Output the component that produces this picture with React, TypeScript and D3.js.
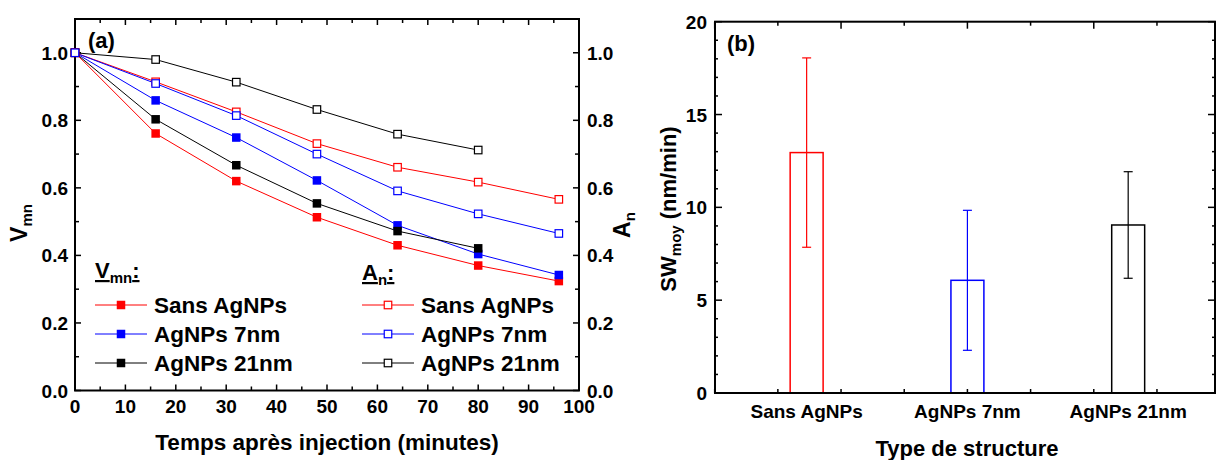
import React from "react";
import * as d3 from "d3";

// ---------- data: panel (a) ----------
const times = [0, 16, 32, 48, 64, 80, 96];
const vmnSans = [1.0, 0.761, 0.62, 0.513, 0.43, 0.37, 0.324];
const vmn7 = [1.0, 0.859, 0.749, 0.622, 0.489, 0.404, 0.342];
const vmn21 = [1.0, 0.803, 0.667, 0.554, 0.472, 0.421];
const anSans = [1.0, 0.914, 0.825, 0.731, 0.661, 0.617, 0.566];
const an7 = [1.0, 0.909, 0.814, 0.7, 0.591, 0.523, 0.465];
const an21 = [1.0, 0.98, 0.913, 0.832, 0.759, 0.712];
const legendNames = ["Sans AgNPs", "AgNPs 7nm", "AgNPs 21nm"];
const seriesColors = ["#ff0000", "#0000ff", "#000000"];
const xTicksA = [0, 10, 20, 30, 40, 50, 60, 70, 80, 90, 100];
const yTicksA = [0.0, 0.2, 0.4, 0.6, 0.8, 1.0];

// ---------- data: panel (b) ----------
const categories = ["Sans AgNPs", "AgNPs 7nm", "AgNPs 21nm"];
const swMean = [12.95, 6.07, 9.05];
const swErr = [5.1, 3.77, 2.87];
const yTicksB = [0, 5, 10, 15, 20];

const FONT = "Arial, 'Liberation Sans', Helvetica, sans-serif";

export default function App() {
  // panel (a) geometry
  const aL = 75, aR = 579, aT = 19, aB = 390.5;
  const xA = d3.scaleLinear().domain([0, 100]).range([aL, aR]);
  const yA = d3.scaleLinear().domain([0, 1.1]).range([aB, aT]);
  const lineA = (xs: number[], ys: number[]) =>
    d3.line<number>().x((_, i) => xA(xs[i])).y((d) => yA(d))(ys) || "";

  // panel (b) geometry
  const bL = 715, bR = 1215, bT = 21.7, bB = 393;
  const xB = d3.scaleLinear().domain([0.43, 3.54]).range([bL, bR]);
  const yB = d3.scaleLinear().domain([0, 20]).range([bB, bT]);
  const barW = 0.205;
  const stepB = 0.393;
  const xTicksB = d3.range(-4, 4).map((k) => ({ v: 2 + k * stepB, major: k % 2 === 0 }));

  const filled = [vmnSans, vmn7, vmn21];
  const open = [anSans, an7, an21];
  const openOrder = [2, 0, 1];

  const sq = 8.5;
  const tickFs = 19;

  return (
    <svg
      width={1219}
      height={460}
      style={{ position: "absolute", left: 0, top: 0, background: "#fff" }}
      fontFamily={FONT}
      fontWeight="bold"
    >
      <rect x={0} y={0} width={1219} height={460} fill="#fff" />

      {/* ================= Panel (a) ================= */}
      {d3.range(0, 101, 5).map((v) => {
        const major = v % 10 === 0;
        const len = major ? 6 : 4;
        return (
          <g key={"xa" + v} stroke="#000" strokeWidth={1.5}>
            <line x1={xA(v)} x2={xA(v)} y1={aB} y2={aB - len} />
            <line x1={xA(v)} x2={xA(v)} y1={aT} y2={aT + len} />
          </g>
        );
      })}
      {d3.range(0, 11).map((i) => {
        const v = i / 10;
        const major = i % 2 === 0;
        const len = major ? 6 : 4;
        return (
          <g key={"ya" + i} stroke="#000" strokeWidth={1.5}>
            <line x1={aL} x2={aL + len} y1={yA(v)} y2={yA(v)} />
            <line x1={aR} x2={aR - len} y1={yA(v)} y2={yA(v)} />
          </g>
        );
      })}
      <rect x={aL} y={aT} width={aR - aL} height={aB - aT} fill="none" stroke="#000" strokeWidth={2} />

      {xTicksA.map((v) => (
        <text key={"xl" + v} x={xA(v)} y={413} textAnchor="middle" fontSize={tickFs}>
          {v}
        </text>
      ))}
      {yTicksA.map((v) => (
        <text key={"yl" + v} x={aL - 7} y={yA(v) + 7} textAnchor="end" fontSize={tickFs}>
          {v.toFixed(1)}
        </text>
      ))}
      {yTicksA.map((v) => (
        <text key={"yr" + v} x={aR + 8} y={yA(v) + 7} textAnchor="start" fontSize={tickFs}>
          {v.toFixed(1)}
        </text>
      ))}

      <text x={327} y={450} textAnchor="middle" fontSize={22.5}>
        Temps après injection (minutes)
      </text>
      <text transform="translate(27,223) rotate(-90)" textAnchor="middle" fontSize={23}>
        V<tspan fontSize={15} dy={5}>mn</tspan>
      </text>
      <text transform="translate(630,225) rotate(-90)" textAnchor="middle" fontSize={23}>
        A<tspan fontSize={15} dy={5}>n</tspan>
      </text>
      <text x={88} y={48} fontSize={22}>(a)</text>

      {/* lines */}
      {filled.map((ys, s) => (
        <path key={"fl" + s} d={lineA(times, ys)} fill="none" stroke={seriesColors[s]} strokeWidth={1} />
      ))}
      {open.map((ys, s) => (
        <path key={"ol" + s} d={lineA(times, ys)} fill="none" stroke={seriesColors[s]} strokeWidth={1} />
      ))}
      {/* filled markers */}
      {filled.map((ys, s) =>
        ys.map((v, i) => (
          <rect
            key={"fm" + s + "-" + i}
            x={xA(times[i]) - sq / 2}
            y={yA(v) - sq / 2}
            width={sq}
            height={sq}
            fill={seriesColors[s]}
          />
        ))
      )}
      {/* open markers */}
      {openOrder.map((s) =>
        open[s].map((v, i) => (
          <rect
            key={"om" + s + "-" + i}
            x={xA(times[i]) - sq / 2 + 0.5}
            y={yA(v) - sq / 2 + 0.5}
            width={sq - 1}
            height={sq - 1}
            fill="#fff"
            stroke={seriesColors[s]}
            strokeWidth={1.2}
          />
        ))
      )}

      {/* legend Vmn */}
      <text x={95} y={278} fontSize={22}>
        <tspan textDecoration="underline">V</tspan>
        <tspan fontSize={15} dy={5}>mn</tspan>
        <tspan dy={-5} textDecoration="underline">:</tspan>
      </text>
      {legendNames.map((n, i) => {
        const y = 305 + i * 29;
        return (
          <g key={"lv" + i}>
            <line x1={95} x2={147} y1={y} y2={y} stroke={seriesColors[i]} strokeWidth={1} />
            <rect x={121 - sq / 2} y={y - sq / 2} width={sq} height={sq} fill={seriesColors[i]} />
            <text x={154} y={y + 8} fontSize={22.5}>{n}</text>
          </g>
        );
      })}

      {/* legend An */}
      <text x={362} y={280} fontSize={22}>
        <tspan textDecoration="underline">A</tspan>
        <tspan fontSize={15} dy={5}>n</tspan>
        <tspan dy={-5} textDecoration="underline">:</tspan>
      </text>
      {legendNames.map((n, i) => {
        const y = 305 + i * 29;
        return (
          <g key={"la" + i}>
            <line x1={362} x2={414} y1={y} y2={y} stroke={seriesColors[i]} strokeWidth={1} />
            <rect x={388 - sq / 2 + 0.5} y={y - sq / 2 + 0.5} width={sq - 1} height={sq - 1} fill="#fff" stroke={seriesColors[i]} strokeWidth={1.2} />
            <text x={421} y={y + 8} fontSize={22.5}>{n}</text>
          </g>
        );
      })}

      {/* ================= Panel (b) ================= */}
      {xTicksB.map((t, i) => {
        const len = t.major ? 7 : 4;
        return (
          <g key={"xb" + i} stroke="#000" strokeWidth={1.5}>
            <line x1={xB(t.v)} x2={xB(t.v)} y1={bT} y2={bT + len} />
            <line x1={xB(t.v)} x2={xB(t.v)} y1={bB} y2={bB - 4} />
          </g>
        );
      })}
      {d3.range(0, 21).map((v) => {
        const major = v % 5 === 0;
        const len = major ? 7 : 3;
        return (
          <g key={"yb" + v} stroke="#000" strokeWidth={1.5}>
            <line x1={bL} x2={bL + len} y1={yB(v)} y2={yB(v)} />
            <line x1={bR} x2={bR - len} y1={yB(v)} y2={yB(v)} />
          </g>
        );
      })}

      {categories.map((c, i) => {
        const cx = xB(i + 1);
        const x0 = xB(i + 1 - barW / 2);
        const x1 = xB(i + 1 + barW / 2);
        return (
          <g key={"bar" + i}>
            <rect
              x={x0}
              y={yB(swMean[i])}
              width={x1 - x0}
              height={yB(0) - yB(swMean[i])}
              fill="none"
              stroke={seriesColors[i]}
              strokeWidth={1.5}
            />
            <line x1={cx} x2={cx} y1={yB(swMean[i] + swErr[i])} y2={yB(swMean[i] - swErr[i])} stroke={seriesColors[i]} strokeWidth={1.2} />
            <line x1={cx - 4.5} x2={cx + 4.5} y1={yB(swMean[i] + swErr[i])} y2={yB(swMean[i] + swErr[i])} stroke={seriesColors[i]} strokeWidth={1.2} />
            <line x1={cx - 4.5} x2={cx + 4.5} y1={yB(swMean[i] - swErr[i])} y2={yB(swMean[i] - swErr[i])} stroke={seriesColors[i]} strokeWidth={1.2} />
            <text x={cx} y={418} textAnchor="middle" fontSize={tickFs}>{c}</text>
          </g>
        );
      })}

      <rect x={bL} y={bT} width={bR - bL} height={bB - bT} fill="none" stroke="#000" strokeWidth={2} />

      {yTicksB.map((v) => (
        <text key={"ybl" + v} x={bL - 8} y={yB(v) + 7} textAnchor="end" fontSize={tickFs}>
          {v}
        </text>
      ))}

      <text x={967} y={456} textAnchor="middle" fontSize={22}>
        Type de structure
      </text>
      <text transform="translate(676,209) rotate(-90)" textAnchor="middle" fontSize={22}>
        SW<tspan fontSize={15} dy={5}>moy</tspan>
        <tspan dy={-5}> (nm/min)</tspan>
      </text>
      <text x={727} y={51} fontSize={22}>(b)</text>
    </svg>
  );
}
